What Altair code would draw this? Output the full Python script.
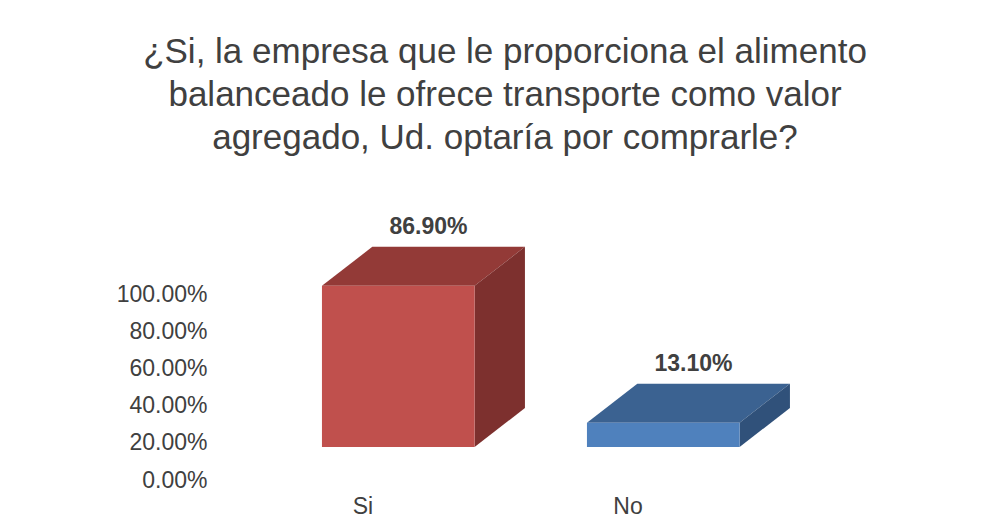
import json
import altair as alt
import pandas as pd

# ---- data ----
categories = ["Si", "No"]
values = [0.869, 0.131]
y_ticks = [0.0, 0.2, 0.4, 0.6, 0.8, 1.0]
title_lines = [
    "¿Si, la empresa que le proporciona el alimento",
    "balanceado le ofrece transporte como valor",
    "agregado, Ud. optaría por comprarle?",
]

# ---- styles ----
front_colors = ["#C0504D", "#4F81BD"]
top_colors = ["#933A37", "#3B6291"]
side_colors = ["#7D302E", "#30517A"]
FONT = "Liberation Sans"
TEXT_COLOR = "#404040"

# 3-D projection constants (in scale units)
FLOOR = 0.178    # lift of the 3-D floor
DEPTH_Y = 0.21   # vertical depth
DEPTH_X = 0.19   # horizontal depth
X_START = 0.347  # left edge of front face inside its slot
BAR_W = 0.576    # width of front face

front_rows, face_rows, label_rows = [], [], []
keys, colors = [], []
for i, (c, v) in enumerate(zip(categories, values)):
    xl = i + X_START
    xr = xl + BAR_W
    b = FLOOR
    t = FLOOR + v
    front_rows.append(dict(cat=c, key=c + "-front", x=xl, x2=xr, y=b, y2=t))
    # top face (parallelogram)
    for xx, lo, hi in [(xl, t, t), (xl + DEPTH_X, t, t + DEPTH_Y),
                       (xr, t, t + DEPTH_Y), (xr + DEPTH_X, t + DEPTH_Y, t + DEPTH_Y)]:
        face_rows.append(dict(cat=c, key=c + "-top", x=xx, y=lo, y2=hi))
    # side face
    for xx, lo, hi in [(xr, b, t), (xr + DEPTH_X, b + DEPTH_Y, t + DEPTH_Y)]:
        face_rows.append(dict(cat=c, key=c + "-side", x=xx, y=lo, y2=hi))
    label_rows.append(dict(cat=c, x=xl + BAR_W / 2 + DEPTH_X * 0.6, y=t + DEPTH_Y, v=v))
    keys += [c + "-front", c + "-top", c + "-side"]
    colors += [front_colors[i], top_colors[i], side_colors[i]]

front_df = pd.DataFrame(front_rows)
face_df = pd.DataFrame(face_rows)
label_df = pd.DataFrame(label_rows)

xscale = alt.Scale(domain=[0, len(categories)], nice=False, zero=False)
yscale = alt.Scale(domain=[0, 1], nice=False, zero=False)
cscale = alt.Scale(domain=keys, range=colors)

cat_js = json.dumps(categories)
x_axis = alt.Axis(values=[i + 0.5 for i in range(len(categories))],
                  labelExpr=f"{cat_js}[floor(datum.value)]",
                  title=None, domain=False, ticks=False, tickSize=0, grid=False,
                  labelPadding=15, labelFontSize=23, labelColor=TEXT_COLOR,
                  labelFont=FONT)
y_axis = alt.Axis(values=y_ticks, format=".2%", title=None, domain=False,
                  ticks=False, tickSize=0, grid=False, labelPadding=23,
                  labelFontSize=23, labelColor=TEXT_COLOR, labelFont=FONT)

front = alt.Chart(front_df).mark_bar(strokeWidth=0).encode(
    x=alt.X("x:Q", scale=xscale, axis=x_axis),
    x2="x2:Q",
    y=alt.Y("y:Q", scale=yscale, axis=y_axis),
    y2="y2:Q",
    color=alt.Color("key:N", scale=cscale, legend=None),
)

faces = alt.Chart(face_df).mark_area(strokeWidth=0, opacity=1).encode(
    x=alt.X("x:Q", scale=xscale, axis=x_axis),
    y=alt.Y("y:Q", scale=yscale, axis=y_axis),
    y2="y2:Q",
    color=alt.Color("key:N", scale=cscale, legend=None),
    detail="key:N",
)

labels = alt.Chart(label_df).mark_text(
    font=FONT, fontSize=23, fontWeight="bold", color=TEXT_COLOR,
    baseline="middle", align="center", dy=-20,
).encode(
    x=alt.X("x:Q", scale=xscale, axis=x_axis),
    y=alt.Y("y:Q", scale=yscale, axis=y_axis),
    text=alt.Text("v:Q", format=".2%"),
)

chart = alt.layer(faces, front, labels).properties(
    width=530,
    height=185.5,
    padding={"left": 222, "top": 286.5, "right": 200, "bottom": 40},
    autosize=alt.AutoSizeParams(type="none"),
    background="white",
    title=alt.TitleParams(
        text=title_lines, fontSize=35, font=FONT, color=TEXT_COLOR,
        fontWeight="normal", lineHeight=43, anchor="middle", frame="group",
        dx=10, offset=60,
    ),
).configure_view(stroke=None)

chart.save("out.html", embed_options={"renderer": "svg", "actions": False})
